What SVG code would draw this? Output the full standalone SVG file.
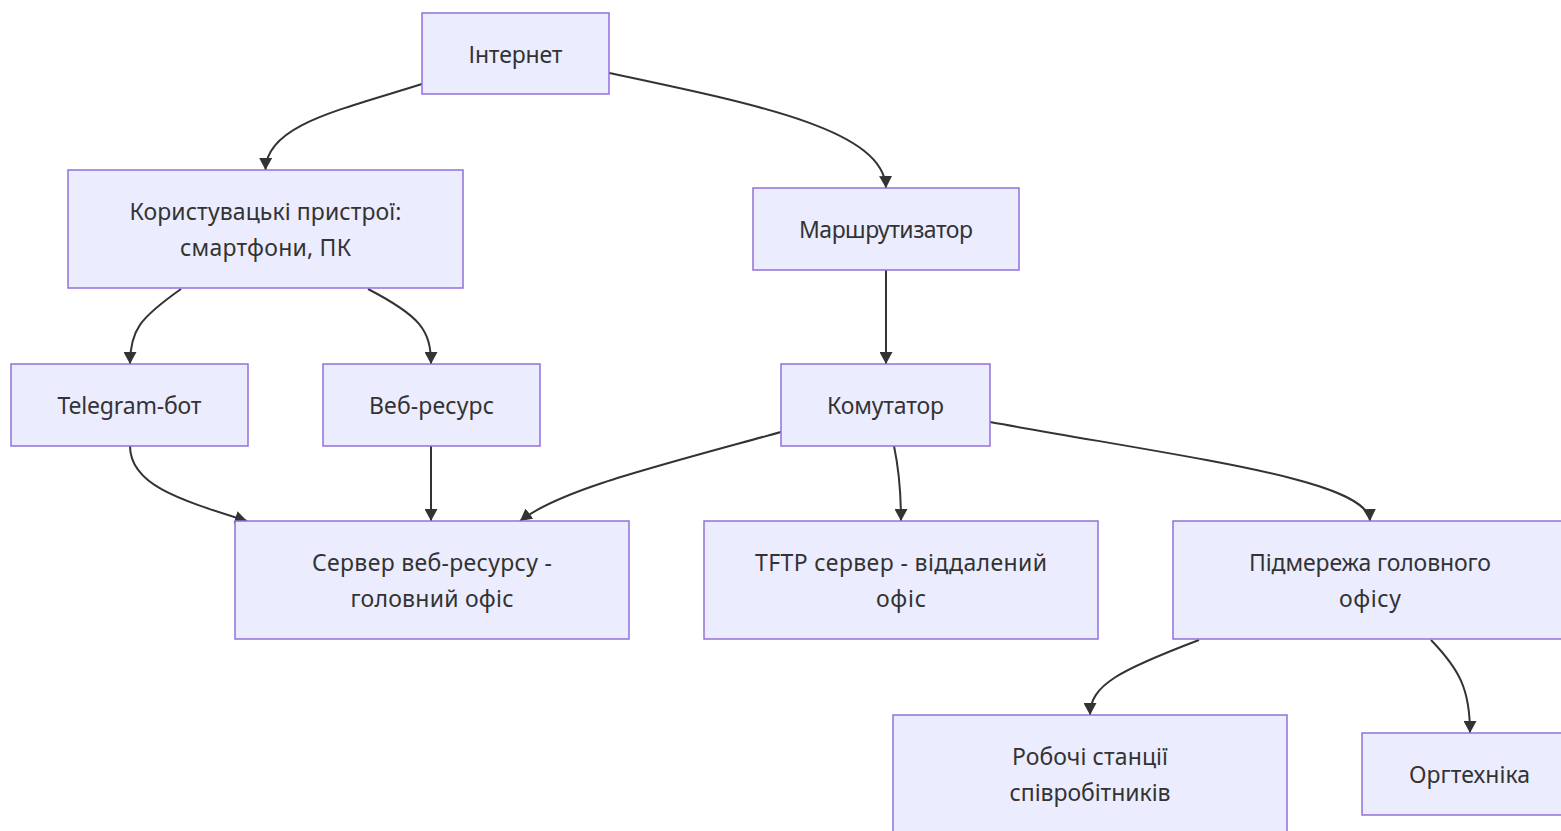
<svg xmlns="http://www.w3.org/2000/svg" width="1561" height="831" viewBox="0 0 1561 831">
  <style>
    .node rect { fill: #ECECFF; stroke: #9370DB; stroke-width: 1.5; }
    .node text { font-family: "Noto Sans", "DejaVu Sans", sans-serif; font-size: 23px; fill: #333333; text-anchor: middle; dominant-baseline: central; }
    .edges path { fill: none; stroke: #333333; stroke-width: 2; marker-end: url(#arrow); }
  </style>
  <defs>
    <marker id="arrow" markerUnits="userSpaceOnUse" markerWidth="13" markerHeight="13" refX="12" refY="6.5" orient="auto">
      <path d="M0,0 L12,6.5 L0,13 Z" fill="#333333"/>
    </marker>
  </defs>
  <rect width="1561" height="831" fill="#ffffff"/>

  <g class="edges">
    <path d="M422,84 C340,110 266,125 265.5,170"/>
    <path d="M609,73 C760,105 884,130 886,188"/>
    <path d="M181,289 C140,318 130,330 130,364"/>
    <path d="M368,289 C420,316 431,330 431,364"/>
    <path d="M886,270 L886,364"/>
    <path d="M130,446 C130,485 180,500 247,521"/>
    <path d="M431,446 L431,521"/>
    <path d="M781,432 C650,468 560,490 520,521"/>
    <path d="M894,446 C898,465 901,490 901,521"/>
    <path d="M990,422 C1200,460 1368,480 1370,521"/>
    <path d="M1199,640 C1120,670 1090,685 1090,715"/>
    <path d="M1431,640 C1460,670 1470,690 1470,733"/>
  </g>

  <g id="internet" class="node">
    <rect x="422" y="13" width="187" height="81"/>
    <text x="515.5" y="53.5" textLength="94" lengthAdjust="spacing">Інтернет</text>
  </g>
  <g id="user-devices" class="node">
    <rect x="68" y="170" width="395" height="118"/>
    <text x="265.5" y="211" textLength="272" lengthAdjust="spacing">Користувацькі пристрої:</text>
    <text x="265.5" y="247" textLength="171" lengthAdjust="spacing">смартфони, ПК</text>
  </g>
  <g id="router" class="node">
    <rect x="753" y="188" width="266" height="82"/>
    <text x="886" y="229" textLength="174" lengthAdjust="spacing">Маршрутизатор</text>
  </g>
  <g id="telegram-bot" class="node">
    <rect x="11" y="364" width="237" height="82"/>
    <text x="129.5" y="405" textLength="144" lengthAdjust="spacing">Telegram-бот</text>
  </g>
  <g id="web-resource" class="node">
    <rect x="323" y="364" width="217" height="82"/>
    <text x="431.5" y="405" textLength="125" lengthAdjust="spacing">Веб-ресурс</text>
  </g>
  <g id="switch" class="node">
    <rect x="781" y="364" width="209" height="82"/>
    <text x="885.5" y="405" textLength="117" lengthAdjust="spacing">Комутатор</text>
  </g>
  <g id="web-server" class="node">
    <rect x="235" y="521" width="394" height="118"/>
    <text x="432" y="562" textLength="240" lengthAdjust="spacing">Сервер веб-ресурсу -</text>
    <text x="432" y="598" textLength="163" lengthAdjust="spacing">головний офіс</text>
  </g>
  <g id="tftp-server" class="node">
    <rect x="704" y="521" width="394" height="118"/>
    <text x="901" y="562" textLength="292" lengthAdjust="spacing">TFTP сервер - віддалений</text>
    <text x="901" y="598" textLength="50" lengthAdjust="spacing">офіс</text>
  </g>
  <g id="hq-subnet" class="node">
    <rect x="1173" y="521" width="394" height="118"/>
    <text x="1370" y="562" textLength="242" lengthAdjust="spacing">Підмережа головного</text>
    <text x="1370" y="598" textLength="62" lengthAdjust="spacing">офісу</text>
  </g>
  <g id="workstations" class="node">
    <rect x="893" y="715" width="394" height="118"/>
    <text x="1090" y="756" textLength="156" lengthAdjust="spacing">Робочі станції</text>
    <text x="1090" y="792" textLength="161" lengthAdjust="spacing">співробітників</text>
  </g>
  <g id="office-equipment" class="node">
    <rect x="1362" y="733" width="215" height="82"/>
    <text x="1469.5" y="774" textLength="121" lengthAdjust="spacing">Оргтехніка</text>
  </g>
</svg>
